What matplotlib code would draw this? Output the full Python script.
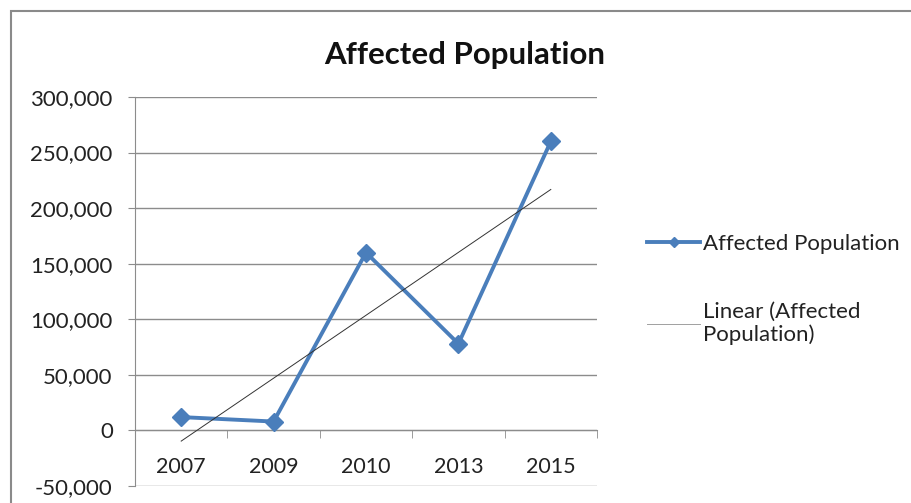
import numpy as np
import matplotlib
matplotlib.use('Agg')
from matplotlib import pyplot as plt
from matplotlib.patches import Rectangle
from matplotlib.ticker import FuncFormatter

# データ
years = ['2007', '2009', '2010', '2013', '2015']
affected = [12000, 8000, 160000, 78000, 260000]
y_ticks = [-50000, 0, 50000, 100000, 150000, 200000, 250000, 300000]

LINE_COLOR = '#4A7EBB'
GRID_COLOR = '#8C8C8C'
FONT = ['Lato', 'DejaVu Sans']

plt.rcParams['font.family'] = FONT

fig = plt.figure(figsize=(9.11, 5.03), dpi=100)
ax = fig.add_axes([135 / 911, 1 - 486 / 503, 462 / 911, 389 / 503])

x = np.arange(len(years))
ax.plot(x, affected, color=LINE_COLOR, linewidth=2.8, marker='D', markersize=9,
        label='Affected Population', zorder=3)

# 線形近似 (Excelの「線形近似」と同じ)
slope, intercept = np.polyfit(x + 1, affected, 1)
trend = slope * (x + 1) + intercept
ax.plot(x, trend, color='#333333', linewidth=0.7,
        label='Linear (Affected\nPopulation)', zorder=4)

ax.set_xlim(-0.5, len(years) - 0.5)
ax.set_ylim(-50000, 300000)
ax.set_yticks(y_ticks)
ax.yaxis.set_major_formatter(FuncFormatter(lambda v, p: f'{int(v):,}'))
ax.grid(axis='y', color=GRID_COLOR, linewidth=1)
ax.set_axisbelow(True)

for side in ['top', 'right']:
    ax.spines[side].set_visible(False)
ax.spines['left'].set_color(GRID_COLOR)
ax.spines['bottom'].set_position(('data', 0))
ax.spines['bottom'].set_color(GRID_COLOR)

ax.set_xticks(x)
ax.set_xticklabels(years)
ax.set_xticks(np.arange(-0.5, len(years)), minor=True)
ax.tick_params(axis='x', which='major', length=0, pad=19, labelsize=15.5, labelcolor='#222222')
ax.tick_params(axis='x', which='minor', length=6, direction='out', color=GRID_COLOR)
ax.tick_params(axis='y', length=5, color=GRID_COLOR, labelsize=16, labelcolor='#222222', pad=11)

fig.text(0.51, 0.89, 'Affected Population', ha='center', va='center',
         fontsize=22.5, fontweight='bold', color='#111111')

leg = ax.legend(loc='upper left', bbox_to_anchor=(1.065, 0.70), frameon=False,
                fontsize=16, labelspacing=2.15, handlelength=2.4, handletextpad=0.1,
                markerscale=0.6, labelcolor='#222222')
leg.get_lines()[1].set_color('#A0A0A0')

fig.add_artist(Rectangle((11 / 911, -0.1), 1.1, 1.1 - 11 / 503,
                         transform=fig.transFigure, fill=False,
                         edgecolor='#8A8A8A', linewidth=1.5))

fig.savefig('out.png', dpi=100)
